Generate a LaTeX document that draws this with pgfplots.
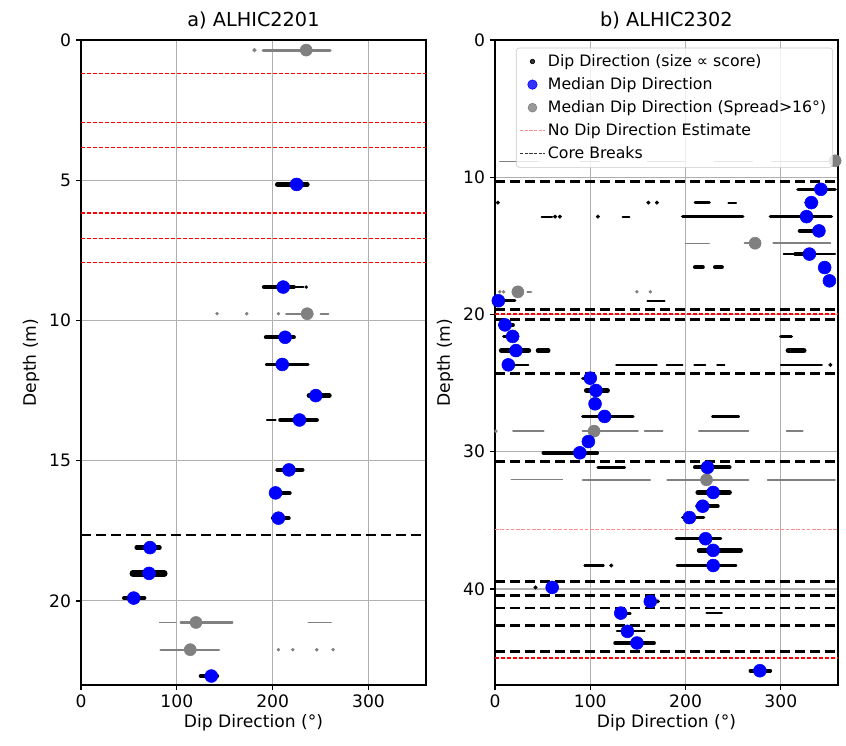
\documentclass[border=0pt]{standalone}
\usepackage{fontspec}
\setmainfont{DejaVu Sans}
\usepackage{pgfplots}
\pgfplotsset{compat=1.18}
\definecolor{mblue}{RGB}{0,0,255}
\definecolor{mgray}{RGB}{128,128,128}
\definecolor{gridc}{RGB}{176,176,176}
\pgfplotsset{
 myax/.style={scale only axis, height=451.5pt, y dir=reverse, xmin=0, xmax=360,
   xtick={0,100,200,300}, grid=major, grid style={gridc, line width=0.8pt},
   tick align=outside, tick pos=left, major tick length=3.5pt,
   axis line style={line width=0.9pt}, every tick/.style={black, line width=0.9pt},
   /pgf/number format/assume math mode=true,
   xlabel={Dip Direction (°)}, ylabel={Depth (m)},
   unbounded coords=jump,
   title style={font=\fontsize{13.5}{15}\selectfont, yshift=-2pt},
   tick label style={font=\fontsize{12}{14}\selectfont},
   label style={font=\fontsize{12}{14}\selectfont},
   xlabel style={yshift=2pt}},
 seg/.style={line cap=round, line width=#1},
 bseg/.style={black, seg=#1, forget plot},
 gseg/.style={mgray, seg=#1, forget plot},
 bdot/.style={black, only marks, mark=*, mark size=#1, forget plot},
 gdot/.style={mgray, only marks, mark=*, mark size=#1, forget plot},
 cb/.style={black, line width=2pt, dash pattern=on 7pt off 3.5pt, forget plot},
 nd/.style={red, line width=1pt, dash pattern=on 3pt off 1.2pt, forget plot},
 blmed/.style={mblue, only marks, mark=*, mark size=4.5pt, forget plot},
 grmed/.style={mgray, only marks, mark=*, mark size=4.2pt, forget plot},
}
\begin{document}
\begin{tikzpicture}
\path[use as bounding box] (-56.7pt,-42.7pt) rectangle (535.5pt,479.5pt);
% ---------------- a) ALHIC2201 ----------------
\begin{axis}[myax, width=241.5pt, ymin=0, ymax=23, ytick={0,5,10,15,20},
  title={a) ALHIC2201}]
\addplot[nd] coordinates {(0,1.19) (360,1.19) (nan,nan) (0,2.94) (360,2.94) (nan,nan) (0,3.83) (360,3.83) (nan,nan) (0,6.17) (360,6.17) (nan,nan) (0,7.08) (360,7.08) (nan,nan) (0,7.94) (360,7.94)};
\addplot[cb] coordinates {(0,17.65) (360,17.65)};
% gray points
\addplot[gseg=2pt] coordinates {(190,0.36) (260,0.36)};
\addplot[gseg=1.5pt] coordinates {(214,9.76) (242,9.76) (nan,nan) (250,9.76) (258,9.76) (nan,nan) (104,20.77) (158,20.77) (nan,nan) (83,21.74) (144,21.74)};
\addplot[gseg=1pt] coordinates {(82,20.77) (99,20.77) (nan,nan) (237,20.77) (261,20.77)};
\addplot[gdot=1.3pt] coordinates {(181,0.36)};
\addplot[gdot=1pt] coordinates {(142,9.76) (173,9.76) (206,9.76) (206,21.74) (221,21.74) (246,21.74) (263,21.74)};
% black points
\addplot[bseg=3.5pt] coordinates {(205,5.15) (236,5.15) (nan,nan) (238,12.68) (259,12.68)};
\addplot[bseg=3pt] coordinates {(191,8.81) (222,8.81) (nan,nan) (193,10.6) (222,10.6) (nan,nan) (208,13.55) (246,13.55) (nan,nan) (205,15.33) (231,15.33) (nan,nan) (58,18.1) (82,18.1) (nan,nan) (45,19.9) (66,19.9) (nan,nan) (125,22.68) (142,22.68)};
\addplot[bseg=4.5pt] coordinates {(54,19.02) (87,19.02)};
\addplot[bseg=2.5pt] coordinates {(200,16.15) (218,16.15) (nan,nan) (200,17.05) (217,17.05)};
\addplot[bseg=2pt] coordinates {(200,11.57) (237,11.57)};
\addplot[bseg=1.5pt] coordinates {(222,8.81) (232,8.81) (nan,nan) (193,11.57) (200,11.57) (nan,nan) (194,13.55) (203,13.55)};
\addplot[bdot=1pt] coordinates {(235,8.81)};
% medians
\addplot[grmed] coordinates {(235,0.36) (236,9.76) (120,20.77) (114,21.74)};
\addplot[blmed] coordinates {(225,5.15) (211,8.81) (213,10.6) (210,11.57) (245,12.68) (228,13.55) (217,15.33) (203,16.15) (206,17.05) (72,18.1) (71,19.02) (55,19.9) (136,22.68)};
\end{axis}
% ---------------- b) ALHIC2302 ----------------
\begin{axis}[myax, at={(289.8pt,0pt)}, width=240.1pt, ymin=0, ymax=47, ytick={0,10,20,30,40},
  title={b) ALHIC2302},
  legend style={at={(0.985,0.988)}, anchor=north east, draw=gridc!70, rounded corners=2pt,
    fill=white, fill opacity=0.8, text opacity=1, font=\fontsize{11}{13}\selectfont,
    row sep=2.3pt, inner sep=2.5pt},
  legend cell align=left]
\addplot[nd] coordinates {(0,19.98) (360,19.98) (nan,nan) (0,45.03) (360,45.03)};
\addplot[red!45, line width=0.7pt, dash pattern=on 2.5pt off 1.2pt, forget plot] coordinates {(0,35.69) (360,35.69)};
\addplot[cb] coordinates {(0,10.32) (360,10.32) (nan,nan) (0,19.66) (360,19.66) (nan,nan) (0,20.34) (360,20.34) (nan,nan) (0,24.28) (360,24.28) (nan,nan) (0,30.71) (360,30.71) (nan,nan) (0,39.47) (360,39.47) (nan,nan) (0,40.47) (360,40.47) (nan,nan) (0,41.39) (360,41.39) (nan,nan) (0,42.68) (360,42.68) (nan,nan) (0,44.55) (360,44.55)};
% gray points
\addplot[gseg=1.5pt] coordinates {(262,14.81) (270,14.81) (nan,nan) (34,18.35) (38,18.35) (nan,nan) (19,28.5) (51,28.5) (nan,nan) (92,28.5) (150,28.5) (nan,nan) (181,32.05) (266,32.05)};
\addplot[gseg=1.2pt] coordinates {(292,14.81) (352,14.81) (nan,nan) (214,28.5) (266,28.5) (nan,nan) (306,28.5) (323,28.5)};
\addplot[gseg=1pt] coordinates {(200,14.81) (225,14.81) (nan,nan) (157,28.5) (176,28.5) (nan,nan) (92,32.05) (163,32.05) (nan,nan) (286,32.05) (357,32.05) (nan,nan) (5,8.86) (45,8.86) (nan,nan) (90,8.86) (110,8.86) (nan,nan) (160,8.86) (200,8.86) (nan,nan) (230,8.86) (270,8.86) (nan,nan) (290,8.86) (350,8.86)};
\addplot[gseg=0.8pt] coordinates {(17,32.05) (71,32.05)};
\addplot[gdot=1pt] coordinates {(5,18.35) (9,18.35) (149,18.35) (163,18.35) (1,28.5)};
% black points
\addplot[bseg=4pt] coordinates {(7,22.63) (35,22.63) (nan,nan) (308,22.63) (324,22.63)};
\addplot[bseg=3.5pt] coordinates {(96,25.54) (118,25.54) (nan,nan) (213,32.97) (246,32.97)};
\addplot[bseg=3pt] coordinates {(320,13.91) (342,13.91) (nan,nan) (210,16.56) (218,16.56) (nan,nan) (231,16.56) (238,16.56) (nan,nan) (45,22.63) (56,22.63) (nan,nan) (51,30.08) (107,30.08) (nan,nan) (210,31.14) (246,31.14) (nan,nan) (214,37.19) (258,37.19)};
\addplot[bseg=2.5pt] coordinates {(318,10.88) (357,10.88) (nan,nan) (197,12.87) (260,12.87) (nan,nan) (289,12.87) (353,12.87) (nan,nan) (5,20.76) (19,20.76) (nan,nan) (300,21.6) (311,21.6) (nan,nan) (212,33.97) (234,33.97) (nan,nan) (197,34.8) (219,34.8) (nan,nan) (126,43.94) (167,43.94) (nan,nan) (268,45.96) (289,45.96) (nan,nan) (315,15.6) (335,15.6)};
\addplot[bseg=2pt] coordinates {(326,11.85) (338,11.85) (nan,nan) (210,11.85) (225,11.85) (nan,nan) (2,19.0) (21,19.0) (nan,nan) (9,21.6) (24,21.6) (nan,nan) (92,24.64) (100,24.64) (nan,nan) (92,27.43) (145,27.43) (nan,nan) (108,31.12) (136,31.12) (nan,nan) (190,36.34) (237,36.34) (nan,nan) (191,38.29) (253,38.29) (nan,nan) (128,41.76) (142,41.76)};
\addplot[bseg=1.5pt] coordinates {(245,11.85) (253,11.85) (nan,nan) (49,12.87) (60,12.87) (nan,nan) (134,12.87) (141,12.87) (nan,nan) (303,15.6) (357,15.6) (nan,nan) (160,19.0) (178,19.0) (nan,nan) (9,23.67) (35,23.67) (nan,nan) (300,23.67) (343,23.67) (nan,nan) (228,27.43) (256,27.43) (nan,nan) (94,38.29) (114,38.29) (nan,nan) (222,41.76) (238,41.76) (nan,nan) (128,43.09) (157,43.09)};
\addplot[bseg=1pt] coordinates {(127,23.67) (170,23.67) (nan,nan) (180,23.67) (197,23.67) (nan,nan) (209,23.67) (221,23.67) (nan,nan) (233,23.67) (241,23.67)};
\addplot[bdot=1.2pt] coordinates {(3,11.85) (161,11.85) (170,11.85) (63,12.87) (68,12.87) (108,12.87) (352,23.67) (122,38.29) (42.5,39.89) (171,40.91)};
% medians
\addplot[grmed] coordinates {(357,8.8) (273,14.81) (24,18.35) (104,28.5) (222,32.05)};
\addplot[blmed] coordinates {(342,10.88) (332,11.85) (327,12.87) (340,13.91) (330,15.6) (346,16.58) (351,17.55) (3.5,19.0) (10.5,20.76) (18.5,21.6) (22,22.63) (14,23.67) (100,24.64) (106,25.54) (105,26.51) (115,27.43) (98,29.26) (89,30.08) (223,31.14) (229,32.97) (218,33.97) (204,34.8) (221,36.34) (229,37.19) (229,38.29) (60,39.89) (163,40.91) (132,41.76) (139,43.09) (149,43.94) (278,45.96)};
% legend
\addlegendimage{only marks, mark=*, mark size=1.6pt, black}
\addlegendentry{Dip Direction (size ∝ score)}
\addlegendimage{only marks, mark=*, mark size=3.3pt, mblue}
\addlegendentry{Median Dip Direction}
\addlegendimage{only marks, mark=*, mark size=3.1pt, mgray}
\addlegendentry{Median Dip Direction (Spread>16°)}
\addlegendimage{red!45, line width=0.6pt, dash pattern=on 2.2pt off 1pt}
\addlegendentry{No Dip Direction Estimate}
\addlegendimage{black!80, line width=0.6pt, dash pattern=on 2.2pt off 1pt}
\addlegendentry{Core Breaks}
\end{axis}
\end{tikzpicture}
\end{document}
